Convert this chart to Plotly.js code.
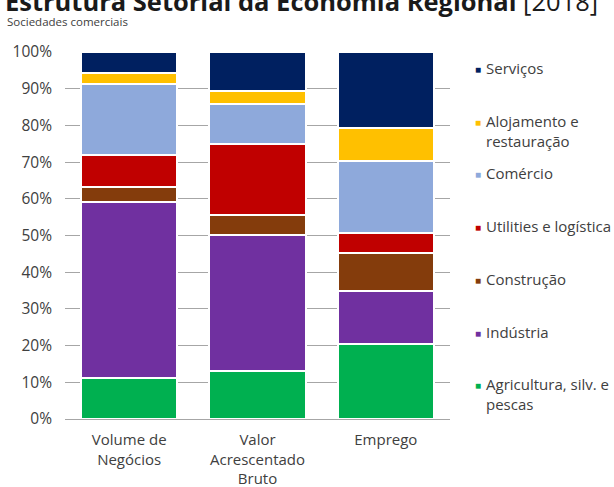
<!DOCTYPE html>
<html>
<head>
<meta charset="utf-8">
<script src="https://cdn.plot.ly/plotly-3.0.1.min.js"></script>
<style>html,body{margin:0;padding:0;background:#fff;}#chart{width:614px;height:487px;}</style>
</head>
<body>
<div id="chart"></div>
<script>
// Categories (x axis)
const categories = ["Volume de<br>Negócios", "Valor<br>Acrescentado<br>Bruto", "Emprego"];
// Series (bottom to top of stack), values in %
const agricultura = [11.3, 13.1, 20.5];
const industria   = [47.9, 37.0, 14.3];
const construcao  = [3.9, 5.5, 10.4];
const utilities   = [8.9, 19.4, 5.5];
const comercio    = [19.2, 10.8, 19.5];
const alojamento  = [3.0, 3.5, 9.0];
const servicos    = [5.8, 10.7, 20.8];
// Series names (legend labels) and colours
const seriesNames = ["Agricultura, silv. e<br>pescas", "Indústria", "Construção", "Utilities e logística", "Comércio", "Alojamento e<br>restauração", "Serviços"];
const seriesColors = ["#00B050", "#7030A0", "#843C0C", "#C00000", "#8EA9DB", "#FFC000", "#002060"];
const seriesValues = [agricultura, industria, construcao, utilities, comercio, alojamento, servicos];
// Y tick values and labels
const yTicks = [0, 10, 20, 30, 40, 50, 60, 70, 80, 90, 100];
const yTickLabels = yTicks.map(v => v + "%");

const FONT = "'Open Sans', 'Noto Sans', sans-serif";
const W = 614, H = 487, ML = 65, MR = 164, MT = 52, MB = 68;
const PW = W - ML - MR, PH = H - MT - MB;
const px2x = p => (p - ML) / PW;
const py2y = p => (H - MB - p) / PH;

const traces = seriesValues.map((vals, i) => ({
  type: "bar",
  x: categories,
  y: vals,
  name: seriesNames[i],
  marker: {color: seriesColors[i], line: {color: "#ffffff", width: 2}},
  hoverinfo: "name+y",
  showlegend: false
}));

// Manual legend (top to bottom: Serviços ... Agricultura)
const annotations = [];
const legendOrder = seriesNames.map((n, i) => i).reverse();
legendOrder.forEach((si, k) => {
  const firstLine = 68 + k * 52.7;
  const lines = seriesNames[si].split("<br>").length;
  annotations.push({
    xref: "paper", yref: "paper", x: px2x(478), y: py2y(firstLine + 1),
    xanchor: "center", yanchor: "middle", showarrow: false,
    text: "■", font: {family: FONT, size: 10, color: seriesColors[si]}
  });
  annotations.push({
    xref: "paper", yref: "paper", x: px2x(484), y: py2y(firstLine + (lines - 1) * 10),
    xanchor: "left", yanchor: "middle", align: "left", showarrow: false,
    text: seriesNames[si], font: {family: FONT, size: 15, color: "#404040"}
  });
});
annotations.push({
  xref: "paper", yref: "paper", x: px2x(5), y: py2y(21.5),
  xanchor: "left", yanchor: "middle", showarrow: false,
  text: "Sociedades comerciais", font: {family: FONT, size: 11.5, color: "#404040"}
});

const layout = {
  width: W, height: H,
  margin: {l: ML, r: MR, t: MT, b: MB, pad: 0},
  paper_bgcolor: "#ffffff", plot_bgcolor: "#ffffff",
  barmode: "stack", bargap: 0.25,
  font: {family: FONT, color: "#404040"},
  title: {
    text: "<b>Estrutura Setorial da Economia Regional</b> [2018]",
    xref: "container", yref: "container", x: 5 / W, xanchor: "left",
    y: 1 - 1.8 / H, yanchor: "middle",
    font: {family: FONT, size: 25.5, color: "#1a1a1a"}
  },
  xaxis: {
    type: "category", showgrid: false, zeroline: false, showline: false, ticks: "",
    tickfont: {family: FONT, size: 15, color: "#404040"}, ticklabelstandoff: 10,
    fixedrange: true
  },
  yaxis: {
    range: [0, 100], tickmode: "array", tickvals: yTicks, ticktext: yTickLabels,
    showgrid: true, gridcolor: "#A6A6A6", gridwidth: 1,
    zeroline: true, zerolinecolor: "#A6A6A6", zerolinewidth: 1, showline: false, ticks: "",
    tickfont: {family: FONT, size: 15.5, color: "#404040"}, ticklabelstandoff: 12,
    fixedrange: true
  },
  annotations: annotations,
  showlegend: false
};

Plotly.newPlot("chart", traces, layout, {displayModeBar: false, staticPlot: true});
</script>
</body>
</html>
